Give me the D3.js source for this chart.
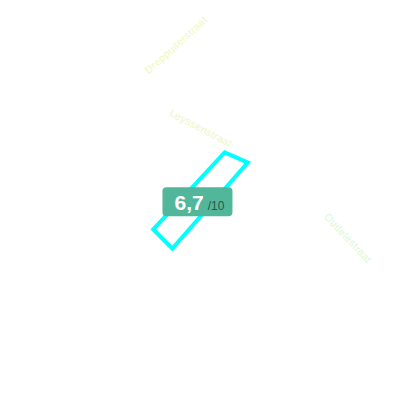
<!DOCTYPE html>
<html>
<head>
<meta charset="utf-8">
<script src="https://cdn.jsdelivr.net/npm/d3@7"></script>
<style>
  body { margin: 0; background: #fff; }
  text { font-family: "Liberation Sans", Arial, sans-serif; }
</style>
</head>
<body>
<div class="chart"></div>
<script>
// street labels
let streets = ["Dreppuiterstraat", "Leyssenstraat", "Oudelestraat"];
let labelX = [176, 201, 348];
let labelY = [45, 128, 238];
let labelAngle = [-42, 28, 47];
let labelColor = ["#f1f8bc", "#edf7c2", "#e0f7d4"];

// segment outline (map units)
let segX = [153.3, 224.7, 247.8, 172.3];
let segY = [229.4, 152.5, 162.6, 248.5];

// score
let score = 6.7;
let scoreMax = 10;

let svgWidth = 400;
let svgHeight = 400;

let svg = d3.select(".chart")
  .append("svg")
  .attr("width", svgWidth)
  .attr("height", svgHeight);

let xScale = d3.scaleLinear().domain([0, 400]).range([0, svgWidth]);
let yScale = d3.scaleLinear().domain([0, 400]).range([0, svgHeight]);

let nl = d3.formatLocale({decimal: ",", thousands: ".", grouping: [3], currency: ["€", ""]});
let fmt = nl.format(".1f");

// street names
svg.selectAll(".street")
  .data(streets)
  .enter()
  .append("text")
  .attr("class", "street")
  .attr("transform", (d, i) => `translate(${xScale(labelX[i])}, ${yScale(labelY[i])}) rotate(${labelAngle[i]})`)
  .attr("text-anchor", "middle")
  .attr("dy", "0.35em")
  .style("font-size", "10.5px")
  .style("letter-spacing", "0.3px")
  .style("fill", (d, i) => labelColor[i])
  .text(d => d);

// segment polygon
let pts = segX.map((x, i) => [xScale(x), yScale(segY[i])]);
svg.append("path")
  .attr("d", d3.line()(pts) + "Z")
  .attr("fill", "none")
  .attr("stroke", "#00ffff")
  .attr("stroke-width", 4)
  .attr("stroke-linejoin", "miter");

// score badge
let c = d3.polygonCentroid(pts);
let bw = 70, bh = 29;
let badge = svg.append("g")
  .attr("transform", `translate(${c[0] - 1.5}, ${c[1] + 2.5})`);

badge.append("rect")
  .attr("x", -bw / 2)
  .attr("y", -bh / 2)
  .attr("width", bw)
  .attr("height", bh)
  .attr("rx", 4)
  .attr("fill", "#52b79a");

let t = badge.append("text")
  .attr("x", -23)
  .attr("y", 8);
t.append("tspan")
  .style("font-size", "21px")
  .style("font-weight", "bold")
  .style("fill", "#fff")
  .text(fmt(score));
t.append("tspan")
  .attr("dx", 4)
  .style("font-size", "12px")
  .style("fill", "#2d5448")
  .text("/" + scoreMax);
</script>
</body>
</html>
